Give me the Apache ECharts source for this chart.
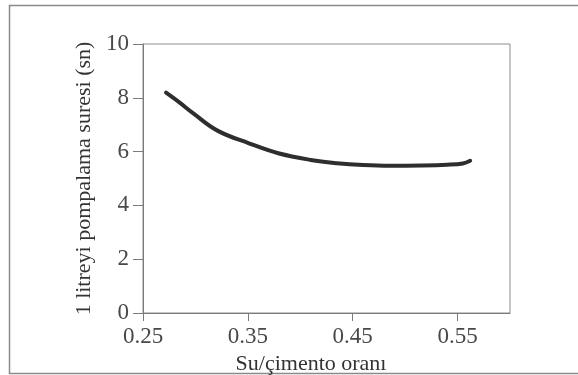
<!DOCTYPE html>
<html>
<head>
<meta charset="utf-8">
<script src="https://cdn.jsdelivr.net/npm/echarts@6/dist/echarts.min.js"></script>
<style>html,body{margin:0;padding:0;background:#fff;}#c{width:578px;height:375px;}</style>
</head>
<body>
<div id="c"></div>
<script>
var xValues = [0.272, 0.285, 0.298, 0.321, 0.351, 0.379, 0.410, 0.435, 0.460, 0.485, 0.515, 0.540, 0.555, 0.562];
var yValues = [8.19, 7.82, 7.42, 6.78, 6.31, 5.94, 5.69, 5.57, 5.50, 5.47, 5.48, 5.51, 5.56, 5.66];
var xTicks = [0.25, 0.35, 0.45, 0.55];
var yTicks = [0, 2, 4, 6, 8, 10];
var xTitle = 'Su/çimento oranı';
var yTitle = '1 litreyi pompalama suresi (sn)';

var points = xValues.map(function (x, i) { return [x, yValues[i]]; });
var font = 'Liberation Serif';
var chart = echarts.init(document.getElementById('c'), null, {renderer: 'canvas'});
chart.setOption({
  backgroundColor: '#ffffff',
  animation: false,
  graphic: [{
    type: 'rect', left: 7, top: 3, silent: true,
    shape: {width: 590, height: 368},
    style: {fill: 'none', stroke: '#8a8a8a', lineWidth: 1.5}
  }],
  grid: {left: 143, right: 68, top: 44, bottom: 62, containLabel: false, outerBoundsMode: 'none',
    show: true, borderColor: '#8c8c8c', borderWidth: 1, backgroundColor: 'transparent'},
  xAxis: {
    type: 'value', min: 0.25, max: 0.6,
    name: xTitle, nameLocation: 'middle', nameGap: 29,
    nameTextStyle: {fontFamily: font, fontSize: 22, color: '#333', padding: [0, 31, 0, 0]},
    axisLine: {show: true, lineStyle: {color: '#7a7a7a', width: 1}},
    axisTick: {show: true, length: 8, customValues: xTicks, lineStyle: {color: '#7a7a7a'}},
    axisLabel: {customValues: xTicks, margin: 12, fontFamily: font, fontSize: 23, color: '#484848',
      formatter: function (v) { return v.toFixed(2); }},
    splitLine: {show: false}
  },
  yAxis: {
    type: 'value', min: 0, max: 10, interval: 2,
    name: yTitle, nameLocation: 'middle', nameGap: 44,
    nameTextStyle: {fontFamily: font, fontSize: 22, color: '#333'},
    axisLine: {show: true, lineStyle: {color: '#7a7a7a', width: 1}},
    axisTick: {show: true, length: 10, lineStyle: {color: '#7a7a7a'}},
    axisLabel: {margin: 14, fontFamily: font, fontSize: 23, color: '#484848'},
    splitLine: {show: false}
  },
  series: [{
    type: 'line', data: points, smooth: 0.4, showSymbol: false,
    lineStyle: {color: '#2e2e2e', width: 4, cap: 'round'}
  }]
});
</script>
</body>
</html>
